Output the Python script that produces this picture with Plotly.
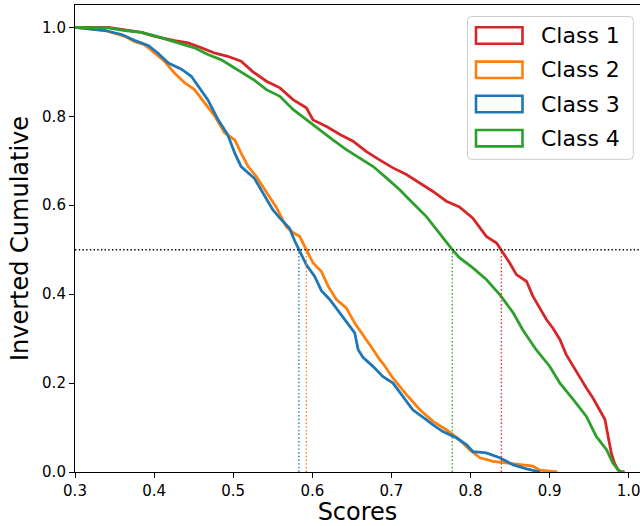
import plotly.graph_objects as go

# ---------------- data ----------------
class_names = ["Class 1", "Class 2", "Class 3", "Class 4"]
colors = ["#d62728", "#ff7f0e", "#1f77b4", "#2ca02c"]

c1_x = [0.300, 0.342, 0.384, 0.401, 0.426, 0.443, 0.460, 0.477, 0.493, 0.510, 0.525,
        0.542, 0.559, 0.576, 0.5925, 0.601, 0.618, 0.635, 0.6515, 0.668, 0.685, 0.702,
        0.719, 0.736, 0.7526, 0.7695, 0.786, 0.803, 0.820, 0.833, 0.839, 0.8496, 0.858,
        0.8707, 0.879, 0.8875, 0.896, 0.904, 0.913, 0.921, 0.9296, 0.938, 0.9465, 0.955,
        0.963, 0.970, 0.974, 0.978, 0.982, 0.9865, 0.991, 0.995]
c1_y = [1.000, 1.000, 0.989, 0.980, 0.970, 0.965, 0.954, 0.942, 0.935, 0.924, 0.900,
        0.879, 0.864, 0.837, 0.819, 0.792, 0.777, 0.759, 0.744, 0.721, 0.702, 0.684,
        0.669, 0.650, 0.631, 0.609, 0.596, 0.571, 0.530, 0.515, 0.499, 0.470, 0.444,
        0.429, 0.395, 0.369, 0.343, 0.324, 0.298, 0.264, 0.238, 0.215, 0.189, 0.166,
        0.140, 0.118, 0.080, 0.043, 0.020, 0.005, 0.000, 0.000]

c2_x = [0.300, 0.338, 0.363, 0.3755, 0.388, 0.401, 0.413, 0.426, 0.439, 0.451, 0.464,
        0.477, 0.489, 0.502, 0.510, 0.519, 0.529, 0.542, 0.555, 0.567, 0.576, 0.584,
        0.5925, 0.601, 0.6115, 0.620, 0.6305, 0.643, 0.6536, 0.664, 0.677, 0.685, 0.689,
        0.702, 0.719, 0.736, 0.7526, 0.7695, 0.786, 0.799, 0.812, 0.8285, 0.845, 0.862,
        0.879, 0.8875, 0.904, 0.910]
c2_y = [1.000, 0.993, 0.980, 0.968, 0.961, 0.942, 0.924, 0.897, 0.875, 0.860, 0.830,
        0.800, 0.763, 0.747, 0.717, 0.687, 0.665, 0.628, 0.594, 0.552, 0.538, 0.530,
        0.500, 0.470, 0.451, 0.418, 0.388, 0.369, 0.335, 0.309, 0.275, 0.253, 0.245,
        0.211, 0.174, 0.140, 0.114, 0.095, 0.073, 0.050, 0.032, 0.024, 0.020, 0.016,
        0.013, 0.004, 0.001, 0.000]

c3_x = [0.300, 0.338, 0.359, 0.375, 0.393, 0.405, 0.418, 0.4345, 0.447, 0.460, 0.468,
        0.481, 0.493, 0.502, 0.510, 0.527, 0.538, 0.550, 0.559, 0.571, 0.578, 0.583,
        0.5925, 0.603, 0.6115, 0.622, 0.635, 0.647, 0.6536, 0.658, 0.664, 0.677, 0.689,
        0.702, 0.715, 0.727, 0.744, 0.7526, 0.765, 0.782, 0.795, 0.803, 0.820, 0.837,
        0.854, 0.871, 0.888]
c3_y = [1.000, 0.993, 0.984, 0.971, 0.959, 0.942, 0.920, 0.906, 0.890, 0.856, 0.837,
        0.792, 0.759, 0.717, 0.687, 0.660, 0.628, 0.590, 0.571, 0.549, 0.519, 0.500,
        0.466, 0.440, 0.408, 0.388, 0.358, 0.328, 0.313, 0.275, 0.258, 0.237, 0.215,
        0.200, 0.170, 0.140, 0.118, 0.106, 0.091, 0.077, 0.061, 0.046, 0.043, 0.032,
        0.016, 0.007, 0.000]

c4_x = [0.300, 0.342, 0.363, 0.384, 0.401, 0.418, 0.4345, 0.451, 0.468, 0.485, 0.502,
        0.519, 0.527, 0.542, 0.559, 0.576, 0.5925, 0.609, 0.626, 0.643, 0.660, 0.677,
        0.694, 0.7105, 0.727, 0.744, 0.777, 0.786, 0.803, 0.820, 0.837, 0.854, 0.866,
        0.883, 0.900, 0.913, 0.930, 0.9465, 0.959, 0.972, 0.980, 0.9886, 0.994]
c4_y = [1.000, 0.999, 0.993, 0.989, 0.981, 0.971, 0.963, 0.954, 0.939, 0.927, 0.909,
        0.890, 0.881, 0.860, 0.845, 0.815, 0.792, 0.770, 0.747, 0.725, 0.706, 0.687,
        0.661, 0.635, 0.605, 0.575, 0.500, 0.482, 0.459, 0.433, 0.399, 0.358, 0.320,
        0.275, 0.238, 0.200, 0.163, 0.125, 0.080, 0.050, 0.020, 0.000, 0.000]

series_x = [c1_x, c2_x, c3_x, c4_x]
series_y = [c1_y, c2_y, c3_y, c4_y]
medians = [0.839, 0.5925, 0.583, 0.777]
threshold = 0.5

x_ticks = [0.3, 0.4, 0.5, 0.6, 0.7, 0.8, 0.9, 1.0]
y_ticks = [0.0, 0.2, 0.4, 0.6, 0.8, 1.0]

# ---------------- layout geometry ----------------
W, H = 640, 526
ML, MR, MT, MB = 75, 0, 5, 54
PW, PH = W - ML - MR, H - MT - MB
FONT = "DejaVu Sans"


def px2paper(px, py):
    return (px - ML) / PW, (H - MB - py) / PH


fig = go.Figure()

for name, col, xs, ys in zip(class_names, colors, series_x, series_y):
    fig.add_trace(go.Scatter(x=xs, y=ys, mode="lines", name=name,
                             line=dict(color=col, width=2.8), showlegend=False,
                             hoverinfo="skip"))

for col, m in zip(colors, medians):
    fig.add_trace(go.Scatter(x=[m, m], y=[0, threshold], mode="lines",
                             line=dict(color=col, width=1.4, dash="1.4px,2.3px"),
                             showlegend=False, hoverinfo="skip"))

fig.add_shape(type="line", xref="paper", yref="y", x0=0, x1=1, y0=threshold, y1=threshold,
              line=dict(color="black", width=1.4, dash="1.4px,2.3px"), layer="above")

# ---------------- manual legend (outlined patches) ----------------
def rounded_rect(px0, py0, px1, py1, r):
    x0, y0 = px2paper(px0, py1)
    x1, y1 = px2paper(px1, py0)
    rx, ry = r / PW, r / PH
    return (f"M{x0+rx},{y0} L{x1-rx},{y0} Q{x1},{y0} {x1},{y0+ry} "
            f"L{x1},{y1-ry} Q{x1},{y1} {x1-rx},{y1} L{x0+rx},{y1} "
            f"Q{x0},{y1} {x0},{y1-ry} L{x0},{y0+ry} Q{x0},{y0} {x0+rx},{y0} Z")

fig.add_shape(type="path", xref="paper", yref="paper",
              path=rounded_rect(467.5, 16.5, 633.3, 159.3, 4),
              line=dict(color="#cccccc", width=1), fillcolor="rgba(255,255,255,0.8)",
              layer="above")

centers = [35.5, 69.8, 104.0, 138.2]
for name, col, cy in zip(class_names, colors, centers):
    x0, y0 = px2paper(476, cy + 8.2)
    x1, y1 = px2paper(522.5, cy - 8.2)
    fig.add_shape(type="rect", xref="paper", yref="paper", x0=x0, x1=x1, y0=y0, y1=y1,
                  line=dict(color=col, width=2.6), fillcolor="rgba(0,0,0,0)", layer="above")
    tx, ty = px2paper(539.0, cy)
    fig.add_annotation(x=tx, y=ty, xref="paper", yref="paper", text=name, showarrow=False,
                       xanchor="left", yanchor="middle",
                       font=dict(family=FONT, size=22, color="black"))

fig.update_layout(
    width=W, height=H,
    margin=dict(l=ML, r=MR, t=MT, b=MB, pad=0, autoexpand=False),
    paper_bgcolor="white", plot_bgcolor="white",
    font=dict(family=FONT, color="black"),
    showlegend=False,
)
fig.update_xaxes(range=[0.3, 0.3 + PW / 791.0], tickvals=x_ticks, automargin=False,
                 ticktext=[f"{v:.1f}" for v in x_ticks], ticklabeloverflow="allow",
                 showgrid=False, zeroline=False, showline=True, linecolor="black",
                 linewidth=1.1, mirror=True, ticks="outside", ticklen=5, tickwidth=1.1,
                 tickcolor="black", tickfont=dict(family=FONT, size=15, color="black"),
                 title=dict(text="Scores", font=dict(family=FONT, size=24, color="black"),
                            standoff=6))
fig.update_yaxes(range=[0, PH / 444.6], tickvals=y_ticks, automargin=False,
                 ticktext=[f"{v:.1f}" for v in y_ticks],
                 showgrid=False, zeroline=False, showline=True, linecolor="black",
                 linewidth=1.1, mirror=False, ticks="outside", ticklen=5, tickwidth=1.1,
                 tickcolor="black", tickfont=dict(family=FONT, size=15, color="black"),
                 title=dict(text="Inverted Cumulative",
                            font=dict(family=FONT, size=24, color="black"), standoff=6))

fig.write_html("out.html", config={"displayModeBar": False},
               post_script="document.body.style.margin='0px';document.body.style.overflow='hidden';")
